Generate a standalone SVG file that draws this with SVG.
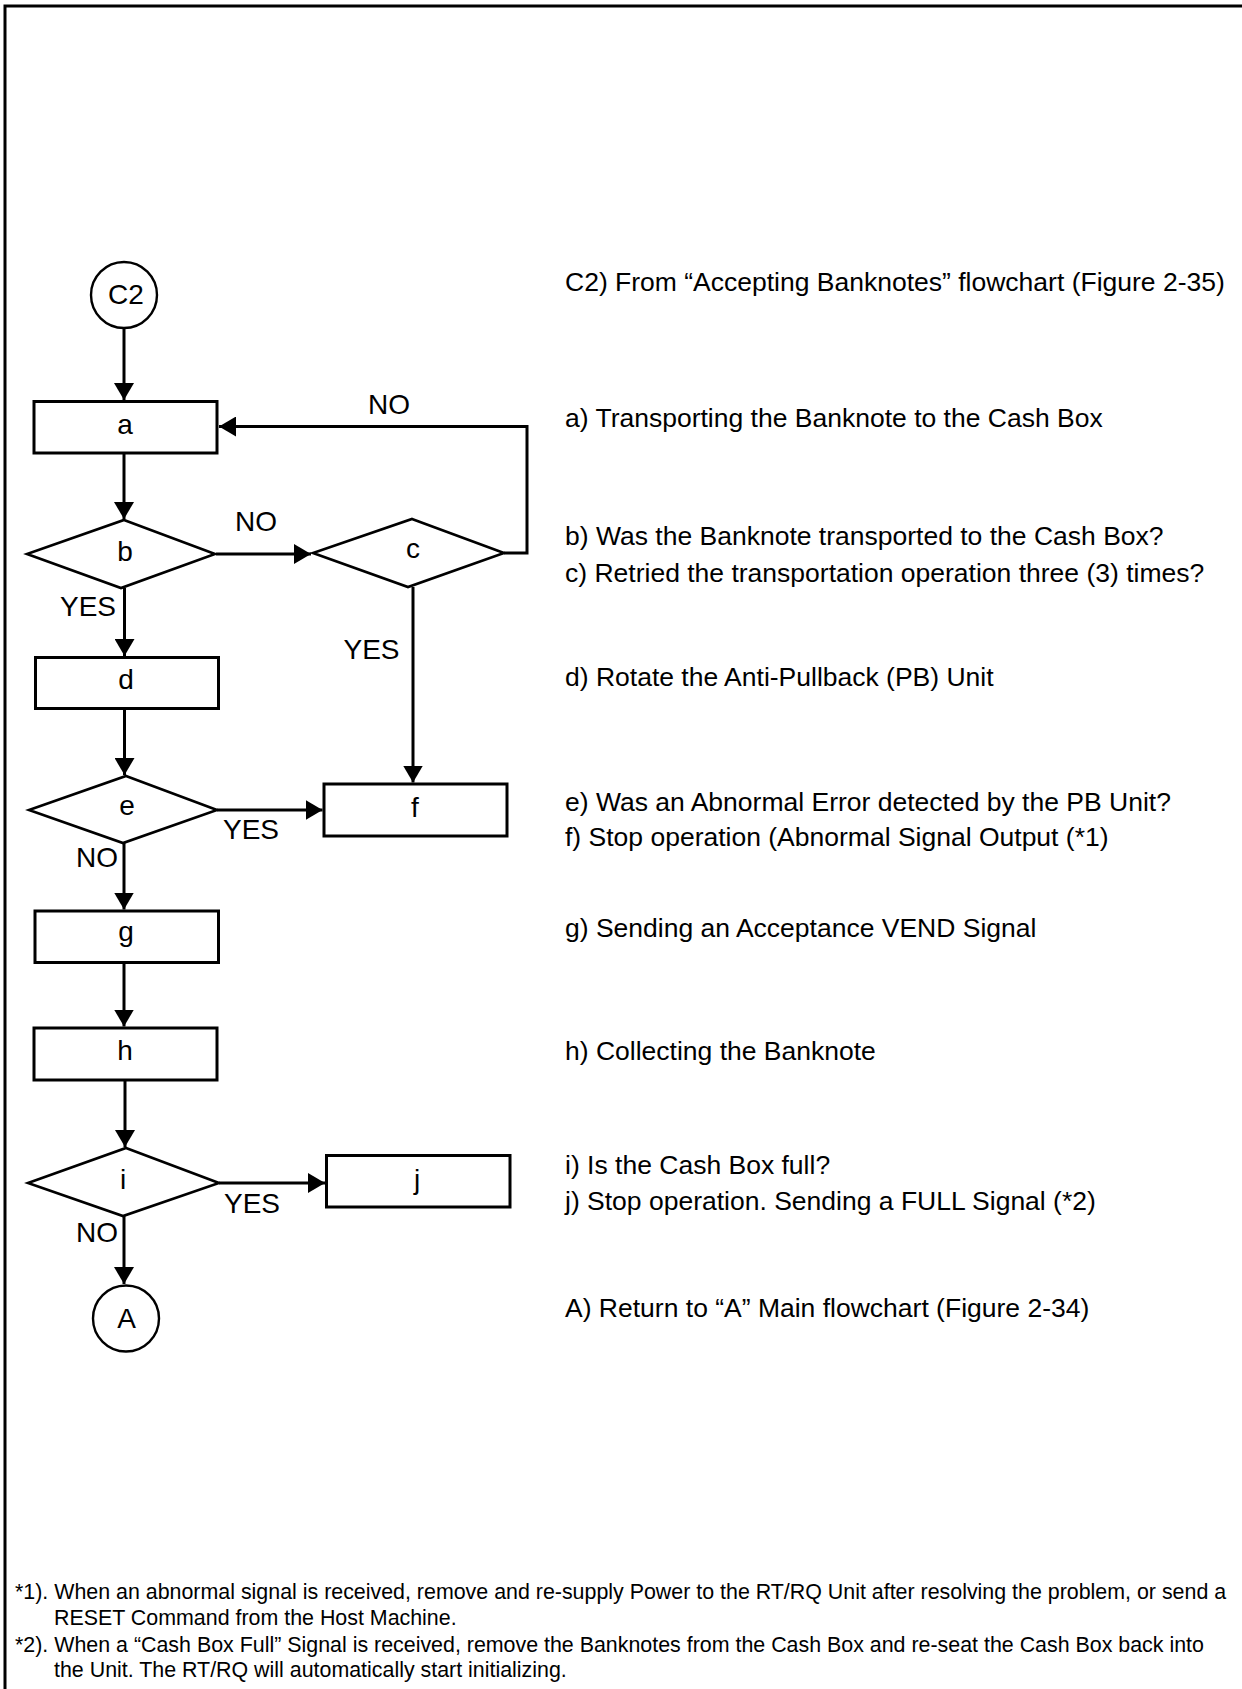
<svg xmlns="http://www.w3.org/2000/svg" width="1242" height="1689" viewBox="0 0 1242 1689">
<style>
.bg{fill:#fff}
.frame{fill:none;stroke:#000;stroke-width:3}
.box{fill:#fff;stroke:#000;stroke-width:3}
.dia{fill:#fff;stroke:#000;stroke-width:2.6}
.circ{fill:#fff;stroke:#000;stroke-width:2.4}
.con{fill:none;stroke:#000;stroke-width:3}
.lbl{font-family:"Liberation Sans",Arial,sans-serif;font-size:28px;fill:#000;text-anchor:middle}
.desc{font-family:"Liberation Sans",Arial,sans-serif;font-size:26.5px;fill:#000}
.note{font-family:"Liberation Sans",Arial,sans-serif;font-size:21.4px;fill:#000}
</style>
<defs>
<marker id="arr" markerUnits="userSpaceOnUse" markerWidth="17" markerHeight="20" refX="17" refY="10" orient="auto">
<path d="M0,0 L17,10 L0,20 Z" fill="#000"/>
</marker>
</defs>
<rect class="bg" x="0" y="0" width="1242" height="1689"/>
<path class="frame" d="M5,1689 V6 H1242"/>

<g id="connectors">
<path class="con" d="M124,328 V400" marker-end="url(#arr)"/>
<path class="con" d="M124,453 V519" marker-end="url(#arr)"/>
<path class="con" d="M216,554 H311" marker-end="url(#arr)"/>
<path class="con" d="M504,553 H527 V426.5 H219" marker-end="url(#arr)"/>
<path class="con" d="M124.5,588 V656" marker-end="url(#arr)"/>
<path class="con" d="M413,587 V782.5" marker-end="url(#arr)"/>
<path class="con" d="M124.5,709 V775" marker-end="url(#arr)"/>
<path class="con" d="M217,810 H322.5" marker-end="url(#arr)"/>
<path class="con" d="M124,843 V909.5" marker-end="url(#arr)"/>
<path class="con" d="M124,963 V1026.5" marker-end="url(#arr)"/>
<path class="con" d="M125,1081 V1147" marker-end="url(#arr)"/>
<path class="con" d="M219,1183 H325" marker-end="url(#arr)"/>
<path class="con" d="M124,1216 V1284" marker-end="url(#arr)"/>
<text class="lbl" x="389" y="414">NO</text>
<text class="lbl" x="256" y="531">NO</text>
<text class="lbl" x="88" y="616">YES</text>
<text class="lbl" x="371.5" y="659">YES</text>
<text class="lbl" x="251" y="839">YES</text>
<text class="lbl" x="97" y="867">NO</text>
<text class="lbl" x="252" y="1213">YES</text>
<text class="lbl" x="97" y="1242">NO</text>
</g>

<g id="node-C2">
<circle class="circ" cx="124" cy="295" r="33"/>
<text class="lbl" x="126" y="304">C2</text>
</g>
<g id="node-a">
<rect class="box" x="34" y="401.5" width="183" height="51.5"/>
<text class="lbl" x="125" y="434">a</text>
</g>
<g id="node-b">
<polygon class="dia" points="124,520 215,554 121,588 27,554"/>
<text class="lbl" x="125" y="561">b</text>
</g>
<g id="node-c">
<polygon class="dia" points="412,519 504,553 408,587 313,553"/>
<text class="lbl" x="413" y="558">c</text>
</g>
<g id="node-d">
<rect class="box" x="35.5" y="657.5" width="183" height="51"/>
<text class="lbl" x="126" y="689">d</text>
</g>
<g id="node-e">
<polygon class="dia" points="126,776 217,810 123,843 29,810"/>
<text class="lbl" x="127" y="815">e</text>
</g>
<g id="node-f">
<rect class="box" x="324" y="784" width="183" height="52"/>
<text class="lbl" x="415" y="817">f</text>
</g>
<g id="node-g">
<rect class="box" x="35" y="911" width="183.5" height="51.5"/>
<text class="lbl" x="126" y="941">g</text>
</g>
<g id="node-h">
<rect class="box" x="34" y="1028" width="183" height="52"/>
<text class="lbl" x="125" y="1060">h</text>
</g>
<g id="node-i">
<polygon class="dia" points="126,1148 219,1183 123,1216 28,1183"/>
<text class="lbl" x="123" y="1189">i</text>
</g>
<g id="node-j">
<rect class="box" x="326.5" y="1155.5" width="183.5" height="51.5"/>
<text class="lbl" x="417" y="1189">j</text>
</g>
<g id="node-A">
<circle class="circ" cx="126" cy="1318.5" r="33"/>
<text class="lbl" x="126.5" y="1328">A</text>
</g>

<g id="legend">
<text class="desc" x="565" y="290.5">C2) From “Accepting Banknotes” flowchart (Figure 2-35)</text>
<text class="desc" x="565" y="426.5">a) Transporting the Banknote to the Cash Box</text>
<text class="desc" x="565" y="545">b) Was the Banknote transported to the Cash Box?</text>
<text class="desc" x="565" y="581.5">c) Retried the transportation operation three (3) times?</text>
<text class="desc" x="565" y="686">d) Rotate the Anti-Pullback (PB) Unit</text>
<text class="desc" x="565" y="811">e) Was an Abnormal Error detected by the PB Unit?</text>
<text class="desc" x="565" y="846">f) Stop operation (Abnormal Signal Output (*1)</text>
<text class="desc" x="565" y="937">g) Sending an Acceptance VEND Signal</text>
<text class="desc" x="565" y="1060">h) Collecting the Banknote</text>
<text class="desc" x="565" y="1174">i) Is the Cash Box full?</text>
<text class="desc" x="565" y="1209.5">j) Stop operation. Sending a FULL Signal (*2)</text>
<text class="desc" x="565" y="1317">A) Return to “A” Main flowchart (Figure 2-34)</text>
</g>

<g id="footnotes">
<text class="note" x="15" y="1599">*1). When an abnormal signal is received, remove and re-supply Power to the RT/RQ Unit after resolving the problem, or send a</text>
<text class="note" x="54" y="1625">RESET Command from the Host Machine.</text>
<text class="note" x="15" y="1652">*2). When a “Cash Box Full” Signal is received, remove the Banknotes from the Cash Box and re-seat the Cash Box back into</text>
<text class="note" x="54" y="1677">the Unit. The RT/RQ will automatically start initializing.</text>
</g>
</svg>
